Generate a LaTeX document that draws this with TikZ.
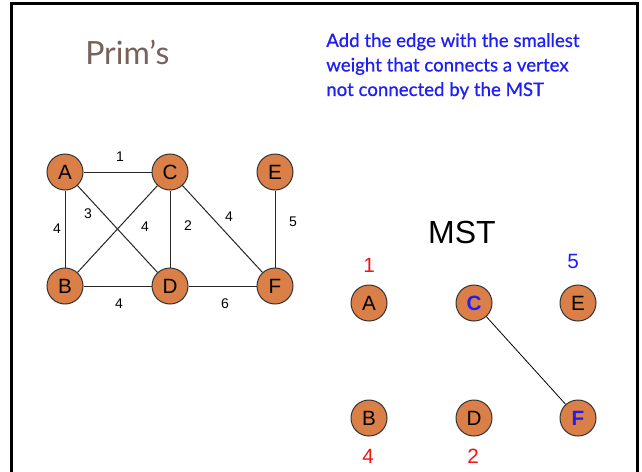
\documentclass[tikz,border=0pt]{standalone}
\usepackage{fontspec}
\setmainfont{Liberation Sans}
\newfontfamily\titlefont{Lato}
\newfontfamily\notefont[FakeBold=0.6]{Lato}
\usetikzlibrary{positioning}
\definecolor{vtxorange}{HTML}{DA7F48}
\definecolor{titlebrown}{HTML}{76625A}
\definecolor{noteblue}{HTML}{1E1EF5}
\definecolor{wtred}{HTML}{F01414}

\begin{document}
\begin{tikzpicture}[x=0.75pt, y=-0.75pt,
  vertex/.style={circle, draw=black!80, line width=0.75pt, fill=vtxorange,
    minimum size=27pt, inner sep=0pt, font=\fontsize{15.5}{18}\selectfont},
  edge/.style={draw=black!85, line width=0.75pt},
  weight/.style={font=\fontsize{10.5}{12}\selectfont},
  mstweight/.style={font=\fontsize{15.5}{18}\selectfont}]

% Page and frame (1 unit = 1 pixel)
\clip (0,0) rectangle (642,471);
\fill[white] (0,0) rectangle (642,471);
\draw[black, line width=2.25pt] (11.5,480) -- (11.5,3.5) -- (637,3.5) -- (637,480);

% Title and note
\node[text=titlebrown, font=\titlefont\fontsize{24}{27}\selectfont, anchor=base west, inner sep=0pt]
  (title) at (85,64) {Prim’s};
\node[text=noteblue, font=\notefont\fontsize{14}{18.4}\selectfont, align=left, anchor=base west, inner sep=0pt]
  (note) at (326,96) {Add the edge with the smallest\\weight that connects a vertex\\not connected by the MST};

% Graph
\node[vertex] (A) at (65,172) {A};
\node[vertex] (C) at (170,172) {C};
\node[vertex] (E) at (275,172) {E};
\node[vertex] (B) at (65,286) {B};
\node[vertex] (D) at (170,286) {D};
\node[vertex] (F) at (275,286) {F};

\draw[edge] (A) -- (C);
\draw[edge] (A) -- (B);
\draw[edge] (A) -- (D);
\draw[edge] (B) -- (C);
\draw[edge] (C) -- (D);
\draw[edge] (C) -- (F);
\draw[edge] (E) -- (F);
\draw[edge] (B) -- (D);
\draw[edge] (D) -- (F);

% Weights
\node[weight] (wac) at (120,157) {1};
\node[weight] (wab) at (57,229) {4};
\node[weight] (wad) at (88,214) {3};
\node[weight] (wbc) at (145,227) {4};
\node[weight] (wcd) at (188,226) {2};
\node[weight] (wcf) at (229,217) {4};
\node[weight] (wef) at (293,222) {5};
\node[weight] (wbd) at (119,304) {4};
\node[weight] (wdf) at (225,304) {6};

% MST so far
\node[font=\fontsize{24}{28}\selectfont] (mst) at (462,232) {MST};
\node[vertex] (mA) at (369,303) {A};
\node[vertex, text=noteblue, font=\bfseries\fontsize{15.5}{18}\selectfont] (mC) at (474,303) {C};
\node[vertex] (mE) at (578,303) {E};
\node[vertex] (mB) at (369,418) {B};
\node[vertex] (mD) at (474,418) {D};
\node[vertex, text=noteblue, font=\bfseries\fontsize{15.5}{18}\selectfont] (mF) at (578,418) {F};
\draw[black, line width=0.6pt] (mC) -- (mF);

% Keys
\node[mstweight, text=wtred] (kA) at (369,265) {1};
\node[mstweight, text=noteblue] (kE) at (573,261) {5};
\node[mstweight, text=wtred] (kB) at (368,456) {4};
\node[mstweight, text=wtred] (kD) at (473,456) {2};

\end{tikzpicture}
\end{document}
